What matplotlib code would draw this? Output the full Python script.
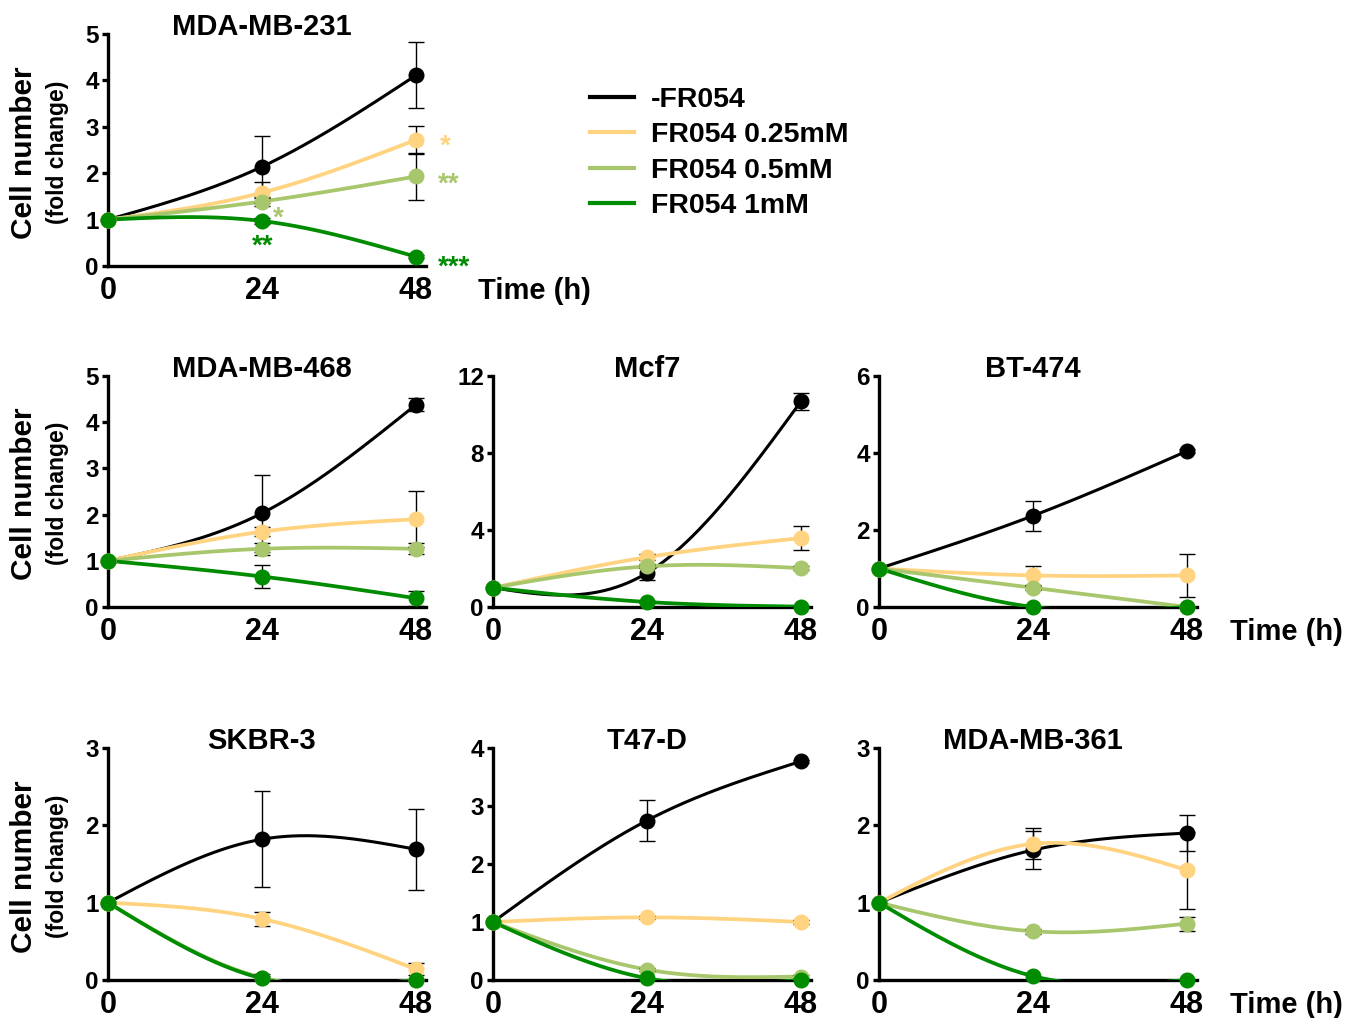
import numpy as np
import matplotlib
matplotlib.use('Agg')
import matplotlib.pyplot as plt
from matplotlib.lines import Line2D

plt.rcParams['font.family'] = ['Liberation Sans', 'DejaVu Sans']
plt.rcParams['font.weight'] = 'bold'

times = [0, 24, 48]
groups = ['-FR054', 'FR054 0.25mM', 'FR054 0.5mM', 'FR054 1mM']
colors = ['#000000', '#FFD37F', '#A8C66C', '#008C00']

# means / SD per group (rows follow groups)
mda231_mean = [[1, 2.14, 4.11], [1, 1.58, 2.72], [1, 1.39, 1.93], [1, 0.97, 0.20]]
mda231_err = [[0, 0.67, 0.71], [0, 0.22, 0.30], [0, 0.10, 0.50], [0, 0.07, 0.03]]

mda468_mean = [[1, 2.03, 4.38], [1, 1.63, 1.90], [1, 1.26, 1.26], [1, 0.66, 0.19]]
mda468_err = [[0, 0.83, 0.14], [0, 0.10, 0.61], [0, 0.13, 0.12], [0, 0.24, 0.16]]

mcf7_mean = [[1, 1.77, 10.68], [1, 2.59, 3.58], [1, 2.11, 2.02], [1, 0.26, 0.02]]
mcf7_err = [[0, 0.35, 0.45], [0, 0.15, 0.63], [0, 0.10, 0.10], [0, 0.05, 0.02]]

bt474_mean = [[1, 2.37, 4.05], [1, 0.82, 0.82], [1, 0.50, 0.0], [1, 0.0, 0.0]]
bt474_err = [[0, 0.39, 0.05], [0, 0.24, 0.55], [0, 0.05, 0.0], [0, 0.0, 0.0]]

skbr3_mean = [[1, 1.82, 1.69], [1, 0.79, 0.14], [1, 0.03, 0.0], [1, 0.02, 0.0]]
skbr3_err = [[0, 0.62, 0.52], [0, 0.09, 0.08], [0, 0.02, 0.0], [0, 0.06, 0.0]]

t47d_mean = [[1, 2.75, 3.77], [1, 1.08, 1.00], [1, 0.18, 0.06], [1, 0.03, 0.0]]
t47d_err = [[0, 0.35, 0.03], [0, 0.03, 0.04], [0, 0.03, 0.02], [0, 0.0, 0.0]]

mda361_mean = [[1, 1.68, 1.90], [1, 1.76, 1.42], [1, 0.63, 0.73], [1, 0.05, 0.0]]
mda361_err = [[0, 0.25, 0.23], [0, 0.20, 0.50], [0, 0.03, 0.09], [0, 0.0, 0.0]]

# significance marks for MDA-MB-231: (group, time index, text, offset px)
mda231_stars = [(1, 2, '*', (29, -7)), (2, 2, '**', (33, -8)), (2, 1, '*', (16, -17)),
                (3, 1, '**', (1, -26)), (3, 2, '***', (38, -11))]


def smooth(x, y, n=200):
    # natural cubic spline through the points (like the smooth line in Prism)
    x = np.asarray(x, float)
    y = np.asarray(y, float)
    h = np.diff(x)
    k = len(x)
    A = np.zeros((k, k))
    b = np.zeros(k)
    A[0, 0] = A[-1, -1] = 1
    for i in range(1, k - 1):
        A[i, i - 1] = h[i - 1]
        A[i, i] = 2 * (h[i - 1] + h[i])
        A[i, i + 1] = h[i]
        b[i] = 6 * ((y[i + 1] - y[i]) / h[i] - (y[i] - y[i - 1]) / h[i - 1])
    M = np.linalg.solve(A, b)
    xs = np.linspace(x[0], x[-1], n)
    idx = np.clip(np.searchsorted(x, xs) - 1, 0, k - 2)
    x0, x1 = x[idx], x[idx + 1]
    hh = x1 - x0
    t0, t1 = x1 - xs, xs - x0
    ys = ((M[idx] * t0 ** 3 + M[idx + 1] * t1 ** 3) / (6 * hh)
          + (y[idx] / hh - M[idx] * hh / 6) * t0
          + (y[idx + 1] / hh - M[idx + 1] * hh / 6) * t1)
    return xs, ys


fig = plt.figure(figsize=(13.46, 10.18), dpi=100)

W = 317.6 / 1346
lefts = [108 / 1346, 493 / 1346, 879 / 1346]
rows = [(1 - 266 / 1018, 232 / 1018), (1 - 607 / 1018, 231 / 1018), (1 - 980 / 1018, 232 / 1018)]


def panel(col, row, name, means, errs, yticks, ylabel=False, time_x=None):
    ax = fig.add_axes([lefts[col], rows[row][0], W, rows[row][1]])
    for i, (m, e) in enumerate(zip(means, errs)):
        xs, ys = smooth(times, m)
        ax.plot(xs, ys, color=colors[i], lw=2.2 if i == 0 else 2.7, zorder=3 + i * 0.1)
        pts = [j for j in range(len(times)) if e[j] > 0]
        if pts:
            ax.errorbar([times[j] for j in pts], [m[j] for j in pts], yerr=[e[j] for j in pts],
                        fmt='none', ecolor='black', elinewidth=1.0, capsize=5.5, capthick=1.0,
                        zorder=4)
        ax.plot(times, m, 'o', ms=10.5, color=colors[i], mec=colors[i], clip_on=False, zorder=5 + i * 0.1)
    ax.set_xlim(0, 49.5)
    ax.set_ylim(0, yticks[-1])
    ax.set_xticks(times)
    ax.set_yticks(yticks)
    for s in ['top', 'right']:
        ax.spines[s].set_visible(False)
    for s in ['left', 'bottom']:
        ax.spines[s].set_linewidth(2.4)
    ax.tick_params(axis='x', length=0, labelsize=22, pad=7)
    ax.tick_params(axis='y', length=4.5, width=2.4, labelsize=17.5, pad=2)
    ax.set_title(name, x=24 / 49.5, y=1.0, fontsize=21, fontweight='bold', pad=-1)
    if ylabel:
        ax.text(-0.265, 0.49, 'Cell number', rotation=90, transform=ax.transAxes,
                ha='center', va='center', fontsize=21.5, fontweight='bold')
        ax.text(-0.158, 0.49, '(fold change)', rotation=90, transform=ax.transAxes,
                ha='center', va='center', fontsize=16.5, fontweight='bold')
    if time_x is not None:
        ax.text(time_x, -0.107, 'Time (h)', transform=ax.transAxes, ha='left', va='center',
                fontsize=21, fontweight='bold')
    return ax


ax1 = panel(0, 0, 'MDA-MB-231', mda231_mean, mda231_err, [0, 1, 2, 3, 4, 5], ylabel=True, time_x=1.165)
for g, t, txt, off in mda231_stars:
    ax1.annotate(txt, (times[t], mda231_mean[g][t]), xytext=off, textcoords='offset pixels',
                 ha='center', va='center', color=colors[g], fontsize=20, fontweight='bold',
                 annotation_clip=False)

panel(0, 1, 'MDA-MB-468', mda468_mean, mda468_err, [0, 1, 2, 3, 4, 5], ylabel=True)
panel(1, 1, 'Mcf7', mcf7_mean, mcf7_err, [0, 4, 8, 12])
panel(2, 1, 'BT-474', bt474_mean, bt474_err, [0, 2, 4, 6], time_x=1.105)
panel(0, 2, 'SKBR-3', skbr3_mean, skbr3_err, [0, 1, 2, 3], ylabel=True)
panel(1, 2, 'T47-D', t47d_mean, t47d_err, [0, 1, 2, 3, 4])
panel(2, 2, 'MDA-MB-361', mda361_mean, mda361_err, [0, 1, 2, 3], time_x=1.105)

handles = [Line2D([], [], color=c, lw=3.0) for c in colors]
fig.legend(handles, groups, loc='upper left', bbox_to_anchor=(590 / 1346, 1 - 87 / 1018),
           frameon=False, borderpad=0, borderaxespad=0, handlelength=1.55, handletextpad=0.6,
           labelspacing=0.33, prop={'size': 20.5, 'weight': 'bold'})

fig.savefig('out.png', dpi=100)
